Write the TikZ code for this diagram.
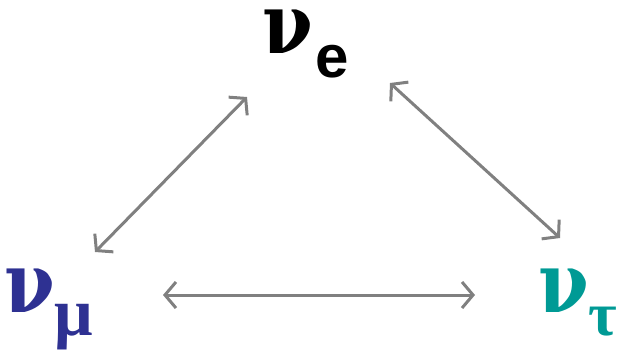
\documentclass[tikz,border=0pt]{standalone}
\usepackage{fontspec}
\setmainfont{Liberation Serif}
\newfontfamily\nufont{DejaVu Serif}
\newfontfamily\subsans{Liberation Sans}
\usetikzlibrary{arrows.meta}
\definecolor{mublue}{HTML}{2E3192}
\definecolor{tauteal}{HTML}{009A95}
\definecolor{arrgray}{HTML}{808080}
\tikzset{
  lbl/.style={anchor=base west, inner sep=0pt, font=\bfseries\fontsize{84}{84}\selectfont},
  osc/.style={draw=arrgray, line width=3pt, {Straight Barb[length=11pt,width=26pt]}-{Straight Barb[length=11pt,width=26pt]}}
}
\newcommand{\nuglyph}{\scalebox{0.87}[1]{\nufont ν}}
\newcommand{\lowsub}[3]{\raisebox{-#1}{\fontsize{#2}{#2}\selectfont #3}}
\begin{document}
\begin{tikzpicture}[x=1pt,y=-1pt]
\useasboundingbox (0,0) rectangle (619,351);
\node[lbl] (nue) at (262,53) {\nuglyph\kern3pt\lowsub{24pt}{60}{\subsans\bfseries e}};
\node[lbl, text=mublue] (numu) at (4,312) {\nuglyph\kern0pt\lowsub{23pt}{68}{\rmfamily\bfseries μ}};
\node[lbl, text=tauteal] (nutau) at (538,312) {\nuglyph\kern0pt\lowsub{23pt}{62}{\rmfamily\bfseries τ}};
\coordinate (a1) at (95,252);
\coordinate (a2) at (247,97);
\coordinate (b1) at (390,83);
\coordinate (b2) at (560,238);
\coordinate (c1) at (163,295);
\coordinate (c2) at (475,295);
\draw[osc] (a1) -- (a2);
\draw[osc] (b1) -- (b2);
\draw[osc] (c1) -- (c2);
\end{tikzpicture}
\end{document}
